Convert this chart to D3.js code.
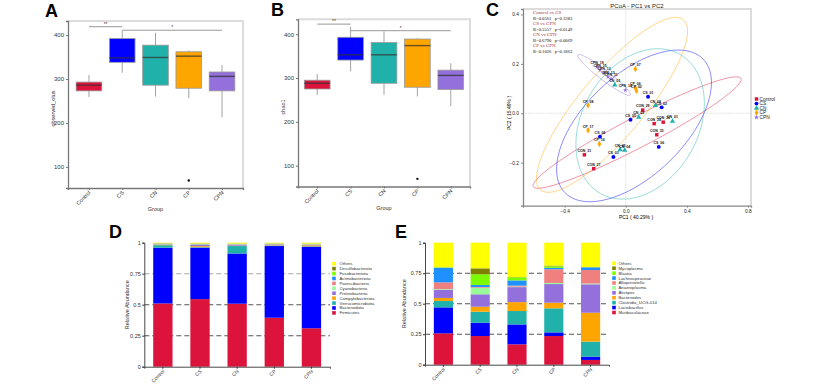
<!DOCTYPE html>
<html>
<head>
<meta charset="utf-8">
<script src="https://cdnjs.cloudflare.com/ajax/libs/d3/7.8.5/d3.min.js"></script>
<style>
body { margin: 0; background: #fff; }
svg { font-family: "Liberation Sans", Arial, sans-serif; }
</style>
</head>
<body>
<script>
//groups and colours shared by all panels
var groups = ["Control", "CS", "CN", "CP", "CPN"];
var groupColors = ["#dc143c", "#0000ff", "#20b2aa", "#ffa500", "#9370db"];

//boxplots: min, q1, median, q3, max
var otusStats = [[259, 273, 286, 293, 309], [314, 338, 348, 392, 411], [260, 286, 349, 377, 405], [256, 279, 352, 362, 365], [213, 273, 306, 316, 332]];
var otusOutliers = [["CP", 69]];
var otusSig = [["Control", "CS", "**", 419], ["CS", "CPN", "*", 411]];
var chaoStats = [[261, 275, 288, 295, 309], [315, 341, 353, 393, 417], [262, 288, 353, 381, 406], [258, 279, 374, 389, 391], [236, 274, 306, 318, 334]];
var chaoOutliers = [["CP", 70]];
var chaoSig = [["Control", "CS", "**", 423], ["CS", "CPN", "*", 408]];
var boxTicks = [100, 200, 300, 400];

//PCoA samples
var sampleIds = ["CON_29", "CON_28", "CON_30", "CON_33", "CON_31", "CON_27",
    "CS_01", "CS_02", "CS_05", "CS_04", "CS_03", "CS_06",
    "CN_03", "CN_08", "CN_01", "CN_02", "CN_05", "CN_04",
    "CP_07", "CP_06", "CP_02", "CP_08", "CP_17", "CP_16",
    "CPN_19", "CPN_15", "CPN_12", "CPN_13", "CPN_11", "CPN_14"];
var sampleGroup = ["Control", "Control", "Control", "Control", "Control", "Control",
    "CS", "CS", "CS", "CS", "CS", "CS",
    "CN", "CN", "CN", "CN", "CN", "CN",
    "CP", "CP", "CP", "CP", "CP", "CP",
    "CPN", "CPN", "CPN", "CPN", "CPN", "CPN"];
var samplePC1 = [0.111, 0.186, 0.245, 0.203, -0.271, -0.210,
    0.146, 0.235, 0.031, -0.169, -0.081, 0.216,
    -0.072, 0.194, 0.306, 0.085, -0.037, -0.007,
    0.063, 0.063, 0.070, -0.247, -0.247, -0.173,
    -0.188, -0.168, -0.142, -0.116, -0.096, -0.003];
var samplePC2 = [0.013, -0.042, -0.036, -0.087, -0.168, -0.224,
    0.067, 0.024, -0.026, -0.095, -0.177, -0.136,
    0.115, 0.032, -0.032, -0.016, -0.147, -0.150,
    0.179, 0.102, 0.091, 0.032, -0.069, -0.124,
    0.187, 0.175, 0.163, 0.147, 0.139, 0.094];
//confidence ellipses: centre and the two semi-axis vectors, in PC units
var ellipseCenter = [[0.074, -0.078], [0.054, -0.051], [0.094, -0.043], [-0.090, 0.034], [-0.142, 0.155]];
var ellipseAxisA = [[0.680, 0.219], [0.453, 0.270], [0.262, 0.281], [0.468, 0.344], [0.171, -0.081]];
var ellipseAxisB = [[0.045, -0.054], [0.228, -0.146], [0.329, -0.117], [0.161, -0.083], [-0.020, -0.016]];
var anosimPairs = ["Control vs CS", "CS vs CPN", "CN vs CPN", "CP vs CPN"];
var anosimR = ["0.0561", "0.5557", "0.6790", "0.1026"];
var anosimP = ["0.3383", "0.0149", "0.0069", "0.1863"];
var pc1Ticks = [-0.4, 0, 0.4, 0.8];
var pc2Ticks = [-0.2, 0, 0.2, 0.4];

//relative abundance, bottom to top, one value per group
var phylumNames = ["Firmicutes", "Bacteroidota", "Verrucomicrobiota", "Campylobacterota", "Proteobacteria", "Cyanobacteria", "Patescibacteria", "Actinobacteriota", "Fusobacteriota", "Desulfobacterota", "Others"];
var phylumValues = [
    [0.510, 0.545, 0.508, 0.395, 0.310],
    [0.450, 0.415, 0.405, 0.578, 0.658],
    [0.020, 0.004, 0.060, 0.004, 0.003],
    [0.003, 0.008, 0.003, 0.003, 0.008],
    [0.004, 0.010, 0.008, 0.006, 0.005],
    [0.002, 0.004, 0.003, 0.002, 0.004],
    [0.002, 0.002, 0.002, 0.002, 0.002],
    [0.002, 0.002, 0.002, 0.002, 0.001],
    [0.001, 0.002, 0.001, 0.001, 0.002],
    [0.001, 0.002, 0.001, 0.001, 0.001],
    [0.005, 0.006, 0.007, 0.006, 0.006]];
var genusNames = ["Muribaculaceae", "Lactobacillus", "Clostridia_UCG-014", "Bacteroides", "Alistipes", "Anaeroplasma", "Alloprevotella", "Lachnospiraceae", "Blautia", "Mycoplasma", "Others"];
var genusValues = [
    [0.257, 0.235, 0.167, 0.235, 0.039],
    [0.213, 0.109, 0.163, 0.030, 0.027],
    [0.052, 0.090, 0.110, 0.197, 0.123],
    [0.025, 0.041, 0.073, 0.046, 0.237],
    [0.068, 0.102, 0.123, 0.153, 0.233],
    [0.005, 0.054, 0.004, 0.009, 0.006],
    [0.055, 0.006, 0.008, 0.112, 0.111],
    [0.120, 0.016, 0.043, 0.012, 0.022],
    [0.003, 0.088, 0.025, 0.013, 0.001],
    [0.001, 0.049, 0.002, 0.005, 0.001],
    [0.201, 0.210, 0.282, 0.188, 0.200]];
var taxaColors = ["#dc143c", "#0000ff", "#20b2aa", "#ffa500", "#9370db", "#98fb98", "#f08080", "#1e90ff", "#7cfc00", "#808000", "#ffff00"];
var abundanceTicks = [0, 0.25, 0.5, 0.75, 1];

var svg = d3.select("body")
    .append("svg")
    .attr("width", 820)
    .attr("height", 388);

var colorOf = d3.scaleOrdinal().domain(groups).range(groupColors);

var letter = function(t, x, y) {
    svg.append("text")
        .attr("x", x).attr("y", y)
        .attr("font-size", 18).attr("font-weight", "bold")
        .text(t);
}

//box plot panel (A and B)
var boxPanel = function(o) {
    var g = svg.append("g");
    var x = d3.scalePoint().domain(groups).range([o.left, o.right]).padding(o.pad);
    var y = d3.scaleLinear().domain(o.domain).range([o.bottom, o.top]);
    var bw = x.step() * 0.77;

    //frame
    g.append("path")
        .attr("d", "M" + o.left + "," + o.top + "H" + o.right + "V" + o.bottom)
        .attr("fill", "none").attr("stroke", "#dcdcdc").attr("stroke-width", 2);

    var yAxis = g.append("g")
        .attr("transform", "translate(" + o.left + ",0)")
        .call(d3.axisLeft(y).tickValues(boxTicks).tickSize(2).tickPadding(2));
    var xAxis = g.append("g")
        .attr("transform", "translate(0," + o.bottom + ")")
        .call(d3.axisBottom(x).tickSize(2).tickFormat(""));
    [yAxis, xAxis].forEach(function(a) {
        a.select(".domain").attr("stroke", "#777").attr("stroke-width", 1.3);
        a.selectAll(".tick line").attr("stroke", "#777");
        a.selectAll("text").attr("font-size", 6).attr("fill", "#333").attr("font-family", "Liberation Sans, Arial");
    });

    g.selectAll(".xlab")
        .data(groups)
        .enter()
        .append("text")
        .attr("class", "xlab")
        .attr("text-anchor", "end")
        .attr("font-size", 5.5)
        .attr("fill", "#333")
        .attr("transform", function(d) {
            return "translate(" + (x(d) + 2) + "," + (o.bottom + 5) + ") rotate(-45)";
        })
        .text(function(d) { return d; });

    g.append("text")
        .attr("x", (o.left + o.right) / 2).attr("y", o.bottom + 23)
        .attr("text-anchor", "middle").attr("font-size", 5.5).attr("fill", "#333")
        .text("Group");
    g.append("text")
        .attr("transform", "translate(" + o.titleX + "," + ((o.top + o.bottom) / 2 + 4) + ") rotate(-90)")
        .attr("text-anchor", "middle").attr("font-size", 5.5).attr("fill", "#333")
        .text(o.title);

    var boxes = g.selectAll(".box")
        .data(o.stats)
        .enter()
        .append("g")
        .attr("class", "box")
        .attr("transform", function(d, i) { return "translate(" + x(groups[i]) + ",0)"; });

    boxes.append("line")
        .attr("y1", function(d) { return y(d[0]); })
        .attr("y2", function(d) { return y(d[4]); })
        .attr("stroke", "#999").attr("stroke-width", 0.9);
    boxes.append("rect")
        .attr("x", -bw / 2)
        .attr("width", bw)
        .attr("y", function(d) { return y(d[3]); })
        .attr("height", function(d) { return y(d[1]) - y(d[3]); })
        .attr("fill", function(d, i) { return groupColors[i]; })
        .attr("stroke", "#999").attr("stroke-width", 0.8);
    boxes.append("line")
        .attr("x1", -bw / 2).attr("x2", bw / 2)
        .attr("y1", function(d) { return y(d[2]); })
        .attr("y2", function(d) { return y(d[2]); })
        .attr("stroke", "#333").attr("stroke-opacity", 0.75).attr("stroke-width", 1.4);

    g.selectAll(".outlier")
        .data(o.outliers)
        .enter()
        .append("circle")
        .attr("class", "outlier")
        .attr("cx", function(d) { return x(d[0]); })
        .attr("cy", function(d) { return y(d[1]); })
        .attr("r", 1.2)
        .attr("fill", "#111");

    //significance brackets
    g.selectAll(".sig")
        .data(o.sig)
        .enter()
        .append("line")
        .attr("x1", function(d) { return x(d[0]); })
        .attr("x2", function(d) { return x(d[1]); })
        .attr("y1", function(d) { return y(d[3]); })
        .attr("y2", function(d) { return y(d[3]); })
        .attr("stroke", "#999").attr("stroke-width", 1);
    g.selectAll(".sigt")
        .data(o.sig)
        .enter()
        .append("text")
        .attr("x", function(d) { return (x(d[0]) + x(d[1])) / 2; })
        .attr("y", function(d) { return y(d[3]) - 0.8; })
        .attr("text-anchor", "middle").attr("font-size", 5).attr("fill", "#444")
        .text(function(d) { return d[2]; });
}

letter("A", 45, 17);
boxPanel({ left: 68, right: 243, top: 21, bottom: 188, pad: 0.63, domain: [52, 432],
    stats: otusStats, outliers: otusOutliers, sig: otusSig, title: "observed_otus", titleX: 55 });
letter("B", 271, 16);
boxPanel({ left: 298, right: 470, top: 19.3, bottom: 186.5, pad: 0.575, domain: [52.5, 434],
    stats: chaoStats, outliers: chaoOutliers, sig: chaoSig, title: "chao1", titleX: 285 });

//PCoA panel
letter("C", 486, 16);
var pc = svg.append("g");
var px = d3.scaleLinear().domain([-0.673, 0.82]).range([523, 751]);
var py = d3.scaleLinear().domain([-0.374, 0.422]).range([205.7, 9]);

pc.append("path")
    .attr("d", "M523,9H751V205.7")
    .attr("fill", "none").attr("stroke", "#dcdcdc").attr("stroke-width", 2);
pc.append("line")
    .attr("x1", px(0)).attr("x2", px(0)).attr("y1", py.range()[1]).attr("y2", py.range()[0])
    .attr("stroke", "#c8c8c8").attr("stroke-width", 0.6).attr("stroke-dasharray", "1.5,1");
pc.append("line")
    .attr("x1", px.range()[0]).attr("x2", px.range()[1]).attr("y1", py(0)).attr("y2", py(0))
    .attr("stroke", "#c8c8c8").attr("stroke-width", 0.6).attr("stroke-dasharray", "1.5,1");

var pcX = pc.append("g").attr("transform", "translate(0,205.7)")
    .call(d3.axisBottom(px).tickValues(pc1Ticks).tickSize(2).tickPadding(1.5).tickFormat(d3.format(".1f")));
var pcY = pc.append("g").attr("transform", "translate(523,0)")
    .call(d3.axisLeft(py).tickValues(pc2Ticks).tickSize(2).tickPadding(2).tickFormat(d3.format(".1f")));
[pcX, pcY].forEach(function(a) {
    a.select(".domain").attr("stroke", "#888").attr("stroke-width", 1.3);
    a.selectAll(".tick line").attr("stroke", "#888");
    a.selectAll("text").attr("font-size", 4.8).attr("fill", "#222").attr("font-family", "Liberation Sans, Arial");
});
pc.append("text").attr("x", 636).attr("y", 219).attr("text-anchor", "middle")
    .attr("font-size", 5).text("PC1 ( 40.29% )");
pc.append("text").attr("transform", "translate(511,113) rotate(-90)").attr("text-anchor", "middle")
    .attr("font-size", 5).text("PC2 ( 15.49% )");
pc.append("text").attr("x", 637).attr("y", 7.5).attr("text-anchor", "middle")
    .attr("font-size", 6).attr("fill", "#222").text("PCoA - PC1 vs PC2");

//ellipses
var ellipseLine = d3.line()
    .x(function(d) { return px(d[0]); })
    .y(function(d) { return py(d[1]); });
var angles = d3.range(0, 101).map(function(i) { return i / 100 * 2 * Math.PI; });
pc.selectAll(".ell")
    .data(ellipseCenter)
    .enter()
    .append("path")
    .attr("class", "ell")
    .attr("d", function(c, i) {
        var a = ellipseAxisA[i], b = ellipseAxisB[i];
        return ellipseLine(angles.map(function(t) {
            return [c[0] + Math.cos(t) * a[0] + Math.sin(t) * b[0], c[1] + Math.cos(t) * a[1] + Math.sin(t) * b[1]];
        }));
    })
    .attr("fill", "none")
    .attr("stroke", function(c, i) { return groupColors[i]; })
    .attr("stroke-opacity", 0.5)
    .attr("stroke-width", 0.9);

var symbolOf = d3.scaleOrdinal().domain(groups)
    .range([d3.symbolSquare, d3.symbolCircle, d3.symbolTriangle, d3.symbolDiamond, d3.symbolStar]);

pc.selectAll(".pt")
    .data(sampleIds)
    .enter()
    .append("path")
    .attr("class", "pt")
    .attr("transform", function(d, i) { return "translate(" + px(samplePC1[i]) + "," + py(samplePC2[i]) + ")"; })
    .attr("d", function(d, i) { return d3.symbol().type(symbolOf(sampleGroup[i])).size(sampleGroup[i] == "CPN" ? 8 : 12)(); })
    .attr("fill", function(d, i) { return colorOf(sampleGroup[i]); });

pc.selectAll(".ptl")
    .data(sampleIds)
    .enter()
    .append("text")
    .attr("class", "ptl")
    .attr("x", function(d, i) { return px(samplePC1[i]); })
    .attr("y", function(d, i) { return py(samplePC2[i]) - 2.8; })
    .attr("text-anchor", "middle")
    .attr("font-size", 3.5)
    .attr("font-weight", "bold")
    .attr("fill", "#111")
    .text(function(d) { return d; });

//ANOSIM text
anosimPairs.forEach(function(p, i) {
    pc.append("text").attr("x", 533).attr("y", 14.4 + i * 11)
        .attr("font-family", "Liberation Serif, Times New Roman, serif")
        .attr("font-size", 5).attr("fill", "#a8323e").text(p);
    pc.append("text").attr("x", 533).attr("y", 20 + i * 11)
        .attr("font-family", "Liberation Serif, Times New Roman, serif")
        .attr("font-size", 4.6).attr("fill", "#111")
        .attr("xml:space", "preserve")
        .text("R=" + anosimR[i] + "   p=" + anosimP[i]);
});

//legend for C
var pcLeg = pc.selectAll(".pleg")
    .data(groups)
    .enter()
    .append("g")
    .attr("class", "pleg")
    .attr("transform", function(d, i) { return "translate(756.5," + (99 + i * 4.6) + ")"; });
pcLeg.append("path")
    .attr("d", function(d) { return d3.symbol().type(symbolOf(d)).size(d == "CPN" ? 8 : 12)(); })
    .attr("fill", function(d) { return colorOf(d); });
pcLeg.append("text")
    .attr("x", 3).attr("y", 1.6)
    .attr("font-size", 4.8).attr("fill", "#222")
    .text(function(d) { return d; });

//stacked abundance panel (D and E)
var stackPanel = function(o) {
    var g = svg.append("g");
    var x = d3.scaleBand().domain(groups).range([o.left, o.right]).paddingInner(0.48).paddingOuter(0.24);
    var y = d3.scaleLinear().domain([0, 1]).range([o.bottom, o.top]);

    var rows = groups.map(function(gr, j) {
        var r = { group: gr };
        o.names.forEach(function(n, k) { r[n] = o.values[k][j]; });
        return r;
    });
    var series = d3.stack().keys(o.names)(rows);

    //dashed guides behind bars
    g.selectAll(".guide")
        .data([0.25, 0.5, 0.75])
        .enter()
        .append("line")
        .attr("x1", o.left).attr("x2", o.right)
        .attr("y1", function(d) { return y(d); })
        .attr("y2", function(d) { return y(d); })
        .attr("stroke", function(d) { return d == 0.75 ? o.topGuide : "#555"; })
        .attr("stroke-width", 1.1)
        .attr("stroke-dasharray", "5,3");

    g.selectAll(".layer")
        .data(series)
        .enter()
        .append("g")
        .attr("fill", function(d, i) { return taxaColors[i]; })
        .selectAll("rect")
        .data(function(d) { return d; })
        .enter()
        .append("rect")
        .attr("x", function(d) { return x(d.data.group); })
        .attr("width", x.bandwidth())
        .attr("y", function(d) { return y(d[1]); })
        .attr("height", function(d) { return y(d[0]) - y(d[1]); });

    var ya = g.append("g").attr("transform", "translate(" + o.left + ",0)")
        .call(d3.axisLeft(y).tickValues(abundanceTicks).tickSize(2).tickPadding(1.5).tickFormat(d3.format("")));
    var xa = g.append("g").attr("transform", "translate(0," + o.bottom + ")")
        .call(d3.axisBottom(x).tickSize(2).tickFormat(""));
    [ya, xa].forEach(function(a) {
        a.select(".domain").attr("stroke", "#333").attr("stroke-width", 0.9);
        a.selectAll(".tick line").attr("stroke", "#333");
        a.selectAll("text").attr("font-size", 5.5).attr("fill", "#333").attr("font-family", "Liberation Sans, Arial");
    });

    g.selectAll(".xlab")
        .data(groups)
        .enter()
        .append("text")
        .attr("text-anchor", "end")
        .attr("font-size", 5)
        .attr("fill", "#333")
        .attr("transform", function(d) {
            return "translate(" + (x(d) + x.bandwidth() / 2 + 2) + "," + (o.bottom + 5) + ") rotate(-45)";
        })
        .text(function(d) { return d; });

    g.append("text")
        .attr("transform", "translate(" + o.titleX + "," + ((o.top + o.bottom) / 2) + ") rotate(-90)")
        .attr("text-anchor", "middle").attr("font-size", 5.5).attr("fill", "#333")
        .text("Relative Abundance");

    var leg = g.selectAll(".leg")
        .data(o.names.slice().reverse())
        .enter()
        .append("g")
        .attr("transform", function(d, i) { return "translate(" + o.legX + "," + (o.legY + i * 4.92) + ")"; });
    leg.append("rect")
        .attr("x", -1.8).attr("y", -1.8).attr("width", 3.6).attr("height", 3.6)
        .attr("fill", function(d) { return taxaColors[o.names.indexOf(d)]; });
    leg.append("text")
        .attr("x", o.legGap).attr("y", 1.5)
        .attr("font-size", 4.3).attr("fill", "#333")
        .text(function(d) { return d; });
}

letter("D", 109, 238);
stackPanel({ left: 144.3, right: 330, top: 242.7, bottom: 366.7, names: phylumNames, values: phylumValues,
    titleX: 129, legX: 334, legY: 263.7, legGap: 5.5, topGuide: "#a8a8a8" });
letter("E", 395, 238);
stackPanel({ left: 425, right: 609, top: 242.7, bottom: 364.7, names: genusNames, values: genusValues,
    titleX: 406, legX: 614, legY: 263.3, legGap: 4.5, topGuide: "#555" });
</script>
</body>
</html>
